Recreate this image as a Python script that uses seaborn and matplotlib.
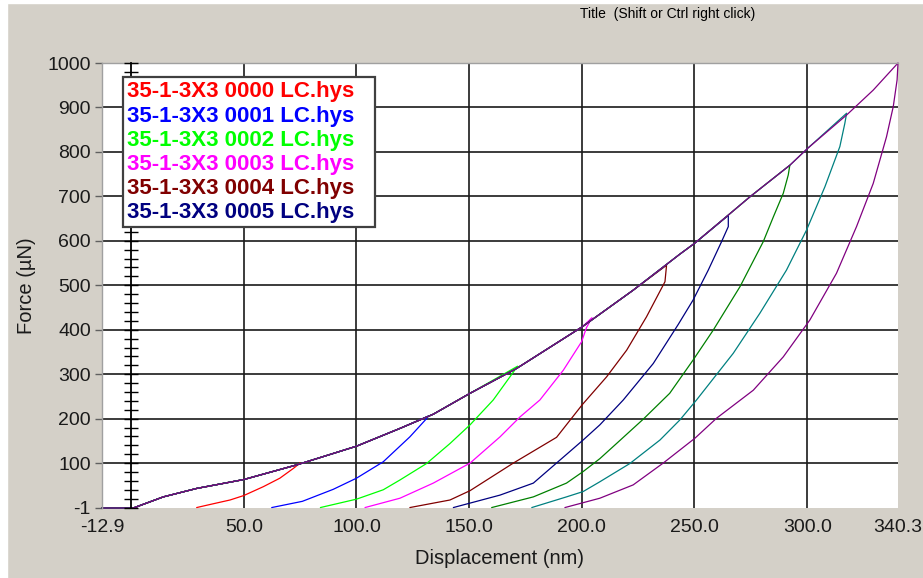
import matplotlib
matplotlib.use("Agg")
import numpy as np
import pandas as pd
import matplotlib.pyplot as plt
from matplotlib.lines import Line2D
from matplotlib.patches import Rectangle
from matplotlib.ticker import MultipleLocator
import seaborn as sns

# ---------------------------------------------------------------- data
curve_names = [
    "35-1-3X3 0000 LC.hys", "35-1-3X3 0001 LC.hys", "35-1-3X3 0002 LC.hys",
    "35-1-3X3 0003 LC.hys", "35-1-3X3 0004 LC.hys", "35-1-3X3 0005 LC.hys",
    "35-1-3X3 0006 LC.hys", "35-1-3X3 0007 LC.hys", "35-1-3X3 0008 LC.hys",
]
curve_colors = ["#FF0000", "#0000FF", "#00FF00", "#FF00FF", "#800000",
                "#000080", "#008000", "#008080", "#800080"]
legend_count = 6

# shared loading branch (nm, uN)
load_disp = [-12.9, 1.0, 14.3, 29.1, 50.0, 73.5, 100.0, 119.3, 134.1, 150.4,
             171.1, 200.3, 222.8, 243.5, 250.2, 265.0, 274.6, 292.3, 300.2,
             317.5, 329.3, 340.3]
load_force = [-1, -1, 24, 43, 63, 96, 138, 178, 210, 257,
              313, 407, 489, 570, 595, 658, 699, 770, 808,
              883, 939, 1000]

# maximum load of each cycle
peak_disp = [75.0, 132.0, 171.5, 204.5, 237.6, 265.0, 292.3, 317.5, 340.3]
peak_force = [100, 206, 318, 427, 545, 657, 770, 887, 1000]

# unloading branches
unload_0_disp = [72.0, 66.0, 58.7, 50.0, 43.9, 36.0, 29.1]
unload_0_force = [88, 66, 47, 27, 17, 8, 0]
unload_1_disp = [131.1, 123.7, 111.9, 100.0, 89.7, 76.0, 62.4]
unload_1_force = [200, 159, 103, 66, 41, 14, 0]
unload_2_disp = [168.1, 160.7, 150.4, 141.5, 131.1, 119.3, 111.9, 100.1, 84.0]
unload_2_force = [294, 242, 186, 144, 99, 62, 40, 19, 0]
unload_3_disp = [202.1, 199.9, 191.8, 181.4, 172.6, 163.7, 150.4, 134.1, 119.3, 103.8]
unload_3_force = [405, 373, 309, 242, 204, 159, 100, 55, 21, 0]
unload_4_disp = [236.9, 228.7, 219.9, 211.0, 200.3, 188.8, 169.6, 150.4, 141.5, 123.7]
unload_4_force = [508, 429, 354, 294, 232, 158, 100, 38, 17, 0]
unload_5_disp = [265.0, 262.0, 256.1, 249.4, 242.8, 231.7, 218.4, 208.0, 200.6,
                 178.5, 163.7, 143.0]
unload_5_force = [632, 598, 534, 467, 412, 324, 242, 186, 152, 55, 28, 0]
unload_6_disp = [291.6, 289.4, 285.0, 280.5, 270.2, 258.3, 249.4, 239.0, 227.3,
                 215.4, 208.0, 200.6, 193.2, 178.5, 160.0]
unload_6_force = [748, 707, 654, 598, 497, 399, 332, 257, 199, 144, 110, 81, 55, 24, 0]
unload_7_disp = [316.7, 314.5, 307.9, 299.7, 290.8, 279.0, 267.2, 250.9, 243.5,
                 234.7, 221.3, 208.0, 200.6, 193.2, 177.8]
unload_7_force = [864, 812, 722, 624, 534, 437, 347, 242, 197, 152, 99, 58, 36, 24, 0]
unload_8_disp = [339.9, 338.2, 335.2, 329.3, 321.9, 313.0, 301.2, 289.4, 276.1,
                 259.8, 250.2, 236.1, 222.8, 208.0, 192.5]
unload_8_force = [962, 902, 834, 729, 632, 527, 422, 339, 264, 201, 156, 100, 51, 21, 0]

x_ticks = [-12.9, 50.0, 100.0, 150.0, 200.0, 250.0, 300.0, 340.3]
x_tick_labels = ["-12.9", "50.0", "100.0", "150.0", "200.0", "250.0", "300.0", "340.3"]
y_ticks = [-1, 100, 200, 300, 400, 500, 600, 700, 800, 900, 1000]
y_tick_labels = ["-1", "100", "200", "300", "400", "500", "600", "700", "800", "900", "1000"]

unload_disp = [unload_0_disp, unload_1_disp, unload_2_disp, unload_3_disp, unload_4_disp,
               unload_5_disp, unload_6_disp, unload_7_disp, unload_8_disp]
unload_force = [unload_0_force, unload_1_force, unload_2_force, unload_3_force,
                unload_4_force, unload_5_force, unload_6_force, unload_7_force,
                unload_8_force]

# one long table: loading up to the peak, then the unloading branch
ld = np.asarray(load_disp)
lf = np.asarray(load_force)
frames = []
for i, name in enumerate(curve_names):
    keep = ld < peak_disp[i] - 0.5
    disp = np.concatenate([ld[keep], [peak_disp[i]], unload_disp[i]])
    force = np.concatenate([lf[keep], [peak_force[i]], unload_force[i]])
    frames.append(pd.DataFrame({"Displacement": disp, "Force": force, "Curve": name}))
df = pd.concat(frames, ignore_index=True)

# ---------------------------------------------------------------- style
sns.set_theme(style="white")
plt.rcParams["font.family"] = ["Liberation Sans", "DejaVu Sans"]

W, H = 923, 578
bg = "#D4D0C8"
fig = plt.figure(figsize=(W / 100, H / 100), dpi=100, facecolor=bg)
fig.patches.append(Rectangle((0, 0), 7 / W, 1, transform=fig.transFigure,
                             color="white", zorder=0))
fig.patches.append(Rectangle((0, 1 - 3 / H), 1, 3 / H, transform=fig.transFigure,
                             color="white", zorder=0))

left, right, top, bottom = 102, 898, 63, 508
ax = fig.add_axes([left / W, 1 - bottom / H, (right - left) / W, (bottom - top) / H])
ax.set_facecolor("white")

sns.lineplot(data=df, x="Displacement", y="Force", hue="Curve",
             hue_order=curve_names, palette=dict(zip(curve_names, curve_colors)),
             sort=False, estimator=None, legend=False, linewidth=0.9, ax=ax)
for ln in ax.get_lines():
    ln.set_clip_on(False)

ax.set_xlim(-12.9, 340.3)
ax.set_ylim(-1, 1000)
ax.set_xticks(x_ticks)
ax.set_xticklabels(x_tick_labels)
ax.set_yticks(y_ticks)
ax.set_yticklabels(y_tick_labels)
ax.tick_params(axis="both", direction="out", length=5, width=1, color="#606060",
               labelsize=14, labelcolor="#1a1a1a", pad=3)

ax.grid(True, color="#1a1a1a", linewidth=1.2)
for gl in (ax.get_xgridlines()[0], ax.get_xgridlines()[-1],
           ax.get_ygridlines()[0], ax.get_ygridlines()[-1]):
    gl.set_visible(False)
ax.set_axisbelow(True)

for side in ("left", "top"):
    ax.spines[side].set_color("#a0a0a0")
    ax.spines[side].set_linewidth(1)
ax.spines["bottom"].set_visible(False)
ax.spines["right"].set_visible(False)

ax.set_xlabel("Displacement (nm)", fontsize=14.5, color="#1a1a1a")
ax.set_ylabel("Force (µN)", fontsize=14.5, color="#1a1a1a")
ax.xaxis.label.set_va("center")
ax.yaxis.label.set_va("center")
ax.xaxis.set_label_coords(0.5, (bottom - 558) / (bottom - top))
ax.yaxis.set_label_coords((27 - left) / (right - left), 0.5)

# secondary force axis drawn through zero displacement
ax2 = ax.twinx()
ax2.set_ylim(-1, 1000)
ax2.spines["right"].set_position(("data", 0))
ax2.spines["right"].set_color("black")
ax2.spines["right"].set_linewidth(1.3)
for side in ("left", "top", "bottom"):
    ax2.spines[side].set_visible(False)
ax2.yaxis.set_major_locator(MultipleLocator(20))
ax2.tick_params(axis="y", direction="inout", length=10, width=1, color="black",
                labelright=False)
ax2.grid(False)

# text first, then an empty handle that leaves room on the right
handles = [Line2D([], [], color=c, linewidth=0) for c in curve_colors[:legend_count]]
leg = ax2.legend(handles, curve_names[:legend_count], loc="upper left",
                 bbox_to_anchor=(123 / W, 1 - 77 / H), bbox_transform=fig.transFigure,
                 borderaxespad=0, frameon=True, fancybox=False, framealpha=1,
                 facecolor="white", edgecolor="#404040", markerfirst=False,
                 handlelength=0.7, handletextpad=0, borderpad=0.2, labelspacing=0.14,
                 labelcolor=curve_colors[:legend_count],
                 prop={"weight": "bold", "size": 16})
leg.get_frame().set_linewidth(1.6)

fig.text(668 / W, 1 - 14 / H, "Title  (Shift or Ctrl right click)", fontsize=10,
         family=["Liberation Sans Narrow", "Liberation Sans", "DejaVu Sans"],
         ha="center", va="center", color="black")

fig.savefig("out.png", dpi=100, facecolor=bg)
